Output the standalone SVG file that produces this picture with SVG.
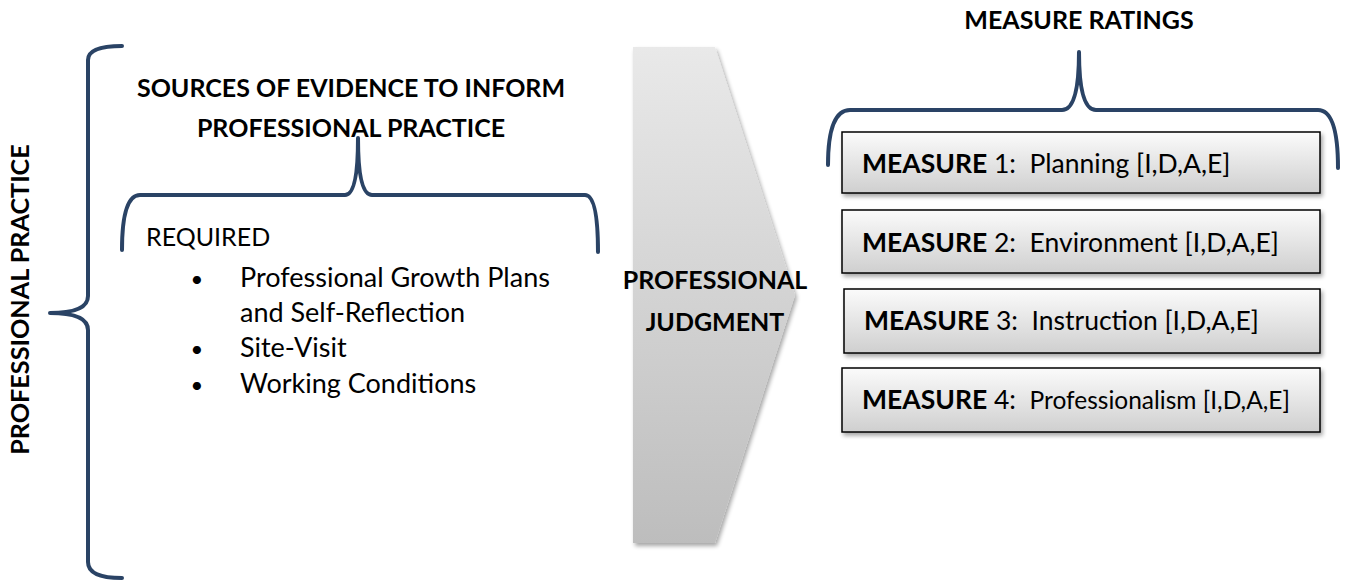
<svg xmlns="http://www.w3.org/2000/svg" width="1350" height="586" viewBox="0 0 1350 586" xml:space="preserve">
<style>
text{font-family:Lato,"Liberation Sans",sans-serif;fill:#000;white-space:pre}
.b{font-weight:bold}
.br{fill:none;stroke:#2a4365;stroke-width:4;stroke-linecap:round;stroke-linejoin:round}
.box{fill:url(#boxg);stroke:#000;stroke-width:1.5;filter:url(#sh)}
.mt{font-size:26.5px}
</style>
<defs>
<linearGradient id="boxg" x1="0" y1="0" x2="0" y2="1">
<stop offset="0" stop-color="#fbfbfb"/><stop offset="1" stop-color="#cfcfcf"/>
</linearGradient>
<linearGradient id="arrg" x1="0" y1="0" x2="0" y2="1">
<stop offset="0" stop-color="#e9e9e9"/><stop offset="1" stop-color="#bdbdbd"/>
</linearGradient>
<filter id="sh" x="-5%" y="-10%" width="115%" height="130%">
<feGaussianBlur in="SourceAlpha" stdDeviation="2"/>
<feOffset dx="2" dy="3" result="o"/>
<feComponentTransfer><feFuncA type="linear" slope="0.35"/></feComponentTransfer>
<feMerge><feMergeNode/><feMergeNode in="SourceGraphic"/></feMerge>
</filter>
</defs>

<g id="professional-practice">
<text class="b" font-size="25.2" transform="translate(29,299.5) rotate(-90)" text-anchor="middle">PROFESSIONAL PRACTICE</text>
</g>

<g id="sources">
<text class="b" font-size="25" x="351" y="97" text-anchor="middle">SOURCES OF EVIDENCE TO INFORM</text>
<text class="b" font-size="25" x="351" y="137" text-anchor="middle">PROFESSIONAL PRACTICE</text>
<text font-size="25" x="146" y="246">REQUIRED</text>
<g font-size="27">
<text x="197" y="287" font-size="22" text-anchor="middle">•</text><text x="240" y="287">Professional Growth Plans</text>
<text x="240" y="322">and Self-Reflection</text>
<text x="197" y="357" font-size="22" text-anchor="middle">•</text><text x="240" y="357">Site-Visit</text>
<text x="197" y="393" font-size="22" text-anchor="middle">•</text><text x="240" y="393">Working Conditions</text>
</g>
</g>

<g id="judgment">
<polygon points="633,47 715,47 795,295 715,543 633,543" fill="url(#arrg)" filter="url(#sh)"/>
<text class="b" font-size="25" x="715" y="289" text-anchor="middle">PROFESSIONAL</text>
<text class="b" font-size="25" x="715" y="331" text-anchor="middle">JUDGMENT</text>
</g>

<g id="measure-ratings">
<text class="b" font-size="25" x="1079" y="29" text-anchor="middle">MEASURE RATINGS</text>
</g>

<g id="measure1">
<rect class="box" x="842" y="132" width="478" height="61"/>
<text class="mt" x="862" y="173"><tspan class="b">MEASURE</tspan> 1:  Planning [I,D,A,E]</text>
</g>
<g id="measure2">
<rect class="box" x="842" y="210" width="478" height="63"/>
<text class="mt" x="862" y="252"><tspan class="b">MEASURE</tspan> 2:  Environment [I,D,A,E]</text>
</g>
<g id="measure3">
<rect class="box" x="844" y="289" width="476" height="64"/>
<text class="mt" x="864" y="330"><tspan class="b">MEASURE</tspan> 3:  Instruction [I,D,A,E]</text>
</g>
<g id="measure4">
<rect class="box" x="842" y="368" width="478" height="64"/>
<text class="mt" x="862" y="409"><tspan class="b">MEASURE</tspan> 4:  <tspan font-size="24.5">Professionalism [I,D,A,E]</tspan></text>
</g>

<g id="connectors">
<path class="br" d="M122,46 Q88,46 88,60 L88,296 Q88,313 50,313 Q88,313 88,330 L88,562 Q88,578 122,578"/>
<path class="br" d="M122,250 Q122,195 140,195 L345,195 Q358,195 358,138 Q358,195 372,195 L585,195 Q598,195 598,252"/>
<path class="br" d="M828,165 Q828,110 850,110 L1062,110 Q1079,110 1079,52 Q1079,110 1096,110 L1318,110 Q1338,110 1338,168"/>
</g>
</svg>
